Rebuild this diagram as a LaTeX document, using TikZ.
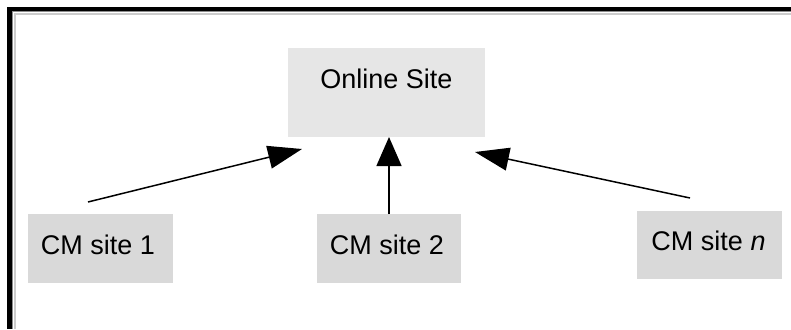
\documentclass[tikz,border=0pt]{standalone}
\usepackage{fontspec}
\setmainfont{Liberation Sans}
\usetikzlibrary{arrows.meta}
\definecolor{onlinefill}{HTML}{E6E6E6}
\definecolor{cmfill}{HTML}{D9D9D9}
\definecolor{framegray}{HTML}{8C8C8C}
\definecolor{framelight}{HTML}{CCCCCC}
\tikzset{
  box/.style={fill=#1, draw=none, inner sep=0pt, anchor=north west},
  lbl/.style={font=\fontsize{27}{30}\selectfont, anchor=base, inner sep=0pt},
  conn/.style={line width=1.5pt, -{Triangle[length=34pt,width=23pt]}},
}
\begin{document}
\begin{tikzpicture}[x=1pt,y=-1pt]
\useasboundingbox (0,0) rectangle (791,329);
\fill[white] (0,0) rectangle (791,329);
% frame
\fill[black] (7,7) rectangle (791,11.5);
\fill[black] (7,7) rectangle (12,329);
\fill[framegray] (12,11.5) rectangle (791,12.5);
\fill[framegray] (12,11.5) rectangle (13,329);
\fill[framelight] (14,13.5) rectangle (791,15.5);
\fill[framelight] (14,13.5) rectangle (16,329);
% boxes
\node[box=onlinefill, minimum width=197pt, minimum height=89pt] (online) at (288,48) {};
\node[box=cmfill, minimum width=145pt, minimum height=69pt] (cm1) at (28,214) {};
\node[box=cmfill, minimum width=144pt, minimum height=69pt] (cm2) at (317,214) {};
\node[box=cmfill, minimum width=145pt, minimum height=68pt] (cmn) at (637,211) {};
% labels
\node[lbl] (tonline) at (386.5,88) {Online Site};
\node[lbl] (tcm1) at (98,254) {CM site 1};
\node[lbl] (tcm2) at (387,254) {CM site 2};
\node[lbl] (tcmn) at (708.5,250) {CM site \textit{n}};
% connector ends
\coordinate (s1) at (88,202);
\coordinate (e1) at (302,149);
\coordinate (s2) at (389,214);
\coordinate (e2) at (389,137);
\coordinate (s3) at (690,198);
\coordinate (e3) at (475,152);
\draw[conn] (s1) -- (e1);
\draw[line width=1.5pt, -{Triangle[length=29pt,width=25pt]}] (s2) -- (e2);
\draw[conn] (s3) -- (e3);
\end{tikzpicture}
\end{document}
